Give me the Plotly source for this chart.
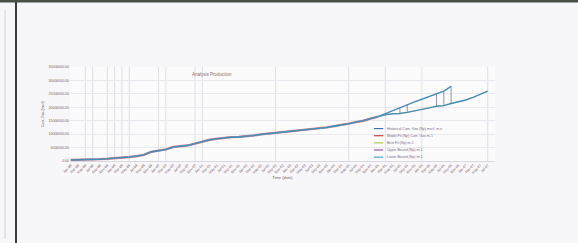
import plotly.graph_objects as go
import pandas as pd

# ---------------- data ----------------
dates = pd.date_range("1998-01-01", periods=58, freq="2MS")
categories = [d.strftime("%b-%y") for d in dates]

history = [0.37, 0.4, 0.5, 0.6, 0.7, 0.85, 1.0, 1.2, 1.5, 1.8, 2.3, 3.4, 3.9, 4.3, 5.2,
           5.6, 5.8, 6.5, 7.3, 7.9, 8.3, 8.7, 8.9, 9.0, 9.2, 9.5, 9.9, 10.2, 10.3, 10.6,
           11.0, 11.3, 11.5, 11.8, 12.2, 12.5, 13.0, 13.4, 13.9, 14.5, 15.0, 15.8, 16.5]
lower_fc = [16.5, 17.2, 17.6, 17.7, 18.1, 18.6, 19.2, 19.8, 20.4, 20.6, 21.4, 22.0,
            22.7, 23.7, 24.8, 26.0]          # index 42..57
upper_fc = [16.5, 17.6, 18.8, 20.0, 21.0, 22.0, 23.0, 24.0, 25.0, 26.0, 27.8]  # index 42..52
fc_start = 42
drop_idx = [45, 46, 50, 51, 52]            # vertical connectors between forecasts
grid_idx = [2, 3, 5, 6, 7, 8, 12, 13, 17, 18, 28, 38, 43, 48, 57]

series_names = ["Historical Cum. Gas (Np) mscf, m-n", "Model Fit (Np) Cum. Gas m-1",
                "Best Fit (Np) m-1", "Upper Bound (Np) m-1", "Lower Bound (Np) m-1"]
series_colors = ["#3f6fb0", "#d0403a", "#a8d040", "#9a5aa8", "#4aa8cc"]

yticks = [0, 5e6, 10e6, 15e6, 20e6, 25e6, 30e6, 35e6]
ytick_text = ["0.00", "5000000.00", "10000000.00", "15000000.00", "20000000.00",
              "25000000.00", "30000000.00", "35000000.00"]

M = 1e6
hist_y = [v * M for v in history]
hist_x = categories[:len(history)]
low_x = categories[fc_start:fc_start + len(lower_fc)]
low_y = [v * M for v in lower_fc]
up_x = categories[fc_start:fc_start + len(upper_fc)]
up_y = [v * M for v in upper_fc]

line_main = "#4a8cb4"

fig = go.Figure()
fig.add_trace(go.Scatter(x=hist_x, y=hist_y, mode="lines", name=series_names[1],
                         line=dict(color="#d88a90", width=2.4)))
fig.add_trace(go.Scatter(x=hist_x, y=hist_y, mode="lines", name=series_names[0],
                         line=dict(color=line_main, width=1.6)))
fig.add_trace(go.Scatter(x=low_x, y=low_y, mode="lines", name=series_names[2],
                         line=dict(color=series_colors[2], width=0.6)))
fig.add_trace(go.Scatter(x=up_x, y=up_y, mode="lines", name=series_names[3],
                         line=dict(color=line_main, width=1.4)))
fig.add_trace(go.Scatter(x=low_x, y=low_y, mode="lines", name=series_names[4],
                         line=dict(color=line_main, width=1.4)))

# vertical connectors between upper and lower forecasts
for i in drop_idx:
    fig.add_trace(go.Scatter(x=[categories[i], categories[i]],
                             y=[lower_fc[i - fc_start] * M, upper_fc[i - fc_start] * M],
                             mode="lines", line=dict(color="#6a6a80", width=0.7),
                             showlegend=False, hoverinfo="skip"))

for i in grid_idx:
    fig.add_shape(type="line", xref="x", yref="paper", x0=categories[i], x1=categories[i],
                  y0=0, y1=1, line=dict(color="#d4d4da", width=0.7), layer="below")

# manual compact legend (5 entries)
leg_x0, leg_y0, leg_dy = 0.715, 0.345, 0.076
for k, (nm, col) in enumerate(zip(series_names, series_colors)):
    yy = leg_y0 - k * leg_dy
    fig.add_shape(type="line", xref="paper", yref="paper", x0=leg_x0, x1=leg_x0 + 0.022,
                  y0=yy, y1=yy, line=dict(color=col, width=1.2))
    fig.add_annotation(xref="paper", yref="paper", x=leg_x0 + 0.026, y=yy, text=nm,
                       showarrow=False, xanchor="left", yanchor="middle",
                       font=dict(size=3.5, color="#7a6a8a"))

# page decoration: left panel, divider, top border
fig.add_shape(type="line", xref="paper", yref="paper", x0=-65/425, x1=-65/425,
              y0=-78/94, y1=(94 + 57)/94, line=dict(color="#cfd2d8", width=1))
fig.add_shape(type="line", xref="paper", yref="paper", x0=-54/425, x1=-54/425,
              y0=-82/94, y1=(94 + 67)/94, line=dict(color="#3a3a40", width=2))
fig.add_shape(type="line", xref="paper", yref="paper", x0=-70/425, x1=(425 + 83)/425,
              y0=(94 + 66)/94, y1=(94 + 66)/94, line=dict(color="#4a4f48", width=3))

fig.add_annotation(xref="paper", yref="paper", x=142/425, y=0.92, text="Analysis Production",
                   showarrow=False, xanchor="center", yanchor="middle",
                   font=dict(size=4.5, color="#8a6a6a"))

fig.update_layout(
    width=578, height=243,
    margin=dict(l=70, r=83, t=67, b=82),
    paper_bgcolor="#f7f7f9", plot_bgcolor="#fbfbfc",
    font=dict(family="Arial, Liberation Sans", size=4, color="#7a5c5c"),
    showlegend=False,
    xaxis=dict(type="category", tickangle=-45, tickfont=dict(size=3.5), showgrid=False,
               range=[-0.1, 58.0],
               title=dict(text="Time (date)", font=dict(size=4), standoff=2),
               linecolor="#d8d8de", showline=True, ticks="", automargin=False),
    yaxis=dict(range=[0, 35e6], tickvals=yticks, ticktext=ytick_text, showgrid=True,
               gridcolor="#e8e8ee", gridwidth=0.6, zeroline=False, tickfont=dict(size=3.5),
               title=dict(text="Cum. Gas (mscf)", font=dict(size=3.5), standoff=4),
               automargin=False),
)

fig.write_html("out.html", config={"displayModeBar": False},
               post_script="document.body.style.margin='0';")
